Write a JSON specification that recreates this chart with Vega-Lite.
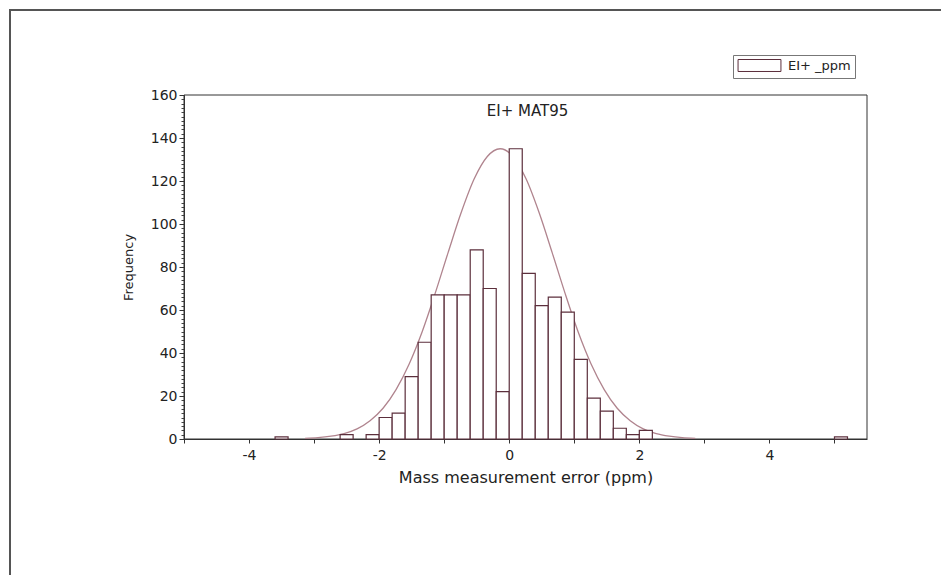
{
  "$schema": "https://vega.github.io/schema/vega-lite/v6.json",
  "usermeta": {"embedOptions": {"actions": false}},
  "autosize": "none",
  "padding": {"left": 10, "top": 10, "right": 0, "bottom": 0},
  "width": 933,
  "height": 567,
  "background": "white",
  "title": {
    "text": "EI+ MAT95",
    "anchor": "middle",
    "frame": "group",
    "offset": 0,
    "dx": 51,
    "dy": 121,
    "baseline": "alphabetic",
    "font": "DejaVu Sans",
    "fontSize": 15,
    "fontWeight": "normal",
    "color": "#222"
  },
  "datasets": {
    "bins": [
      {"b0": -3.6, "b1": -3.4, "count": 1},
      {"b0": -2.6, "b1": -2.4, "count": 2},
      {"b0": -2.2, "b1": -2.0, "count": 2},
      {"b0": -2.0, "b1": -1.8, "count": 10},
      {"b0": -1.8, "b1": -1.6, "count": 12},
      {"b0": -1.6, "b1": -1.4, "count": 29},
      {"b0": -1.4, "b1": -1.2, "count": 45},
      {"b0": -1.2, "b1": -1.0, "count": 67},
      {"b0": -1.0, "b1": -0.8, "count": 67},
      {"b0": -0.8, "b1": -0.6, "count": 67},
      {"b0": -0.6, "b1": -0.4, "count": 88},
      {"b0": -0.4, "b1": -0.2, "count": 70},
      {"b0": -0.2, "b1": 0.0, "count": 22},
      {"b0": 0.0, "b1": 0.2, "count": 135},
      {"b0": 0.2, "b1": 0.4, "count": 77},
      {"b0": 0.4, "b1": 0.6, "count": 62},
      {"b0": 0.6, "b1": 0.8, "count": 66},
      {"b0": 0.8, "b1": 1.0, "count": 59},
      {"b0": 1.0, "b1": 1.2, "count": 37},
      {"b0": 1.2, "b1": 1.4, "count": 19},
      {"b0": 1.4, "b1": 1.6, "count": 13},
      {"b0": 1.6, "b1": 1.8, "count": 5},
      {"b0": 1.8, "b1": 2.0, "count": 2},
      {"b0": 2.0, "b1": 2.2, "count": 4},
      {"b0": 5.0, "b1": 5.2, "count": 1}
    ],
    "curve": [
      {"x": -3.14, "y": 0.27},
      {"x": -2.94, "y": 0.6},
      {"x": -2.74, "y": 1.3},
      {"x": -2.54, "y": 2.5},
      {"x": -2.34, "y": 4.7},
      {"x": -2.14, "y": 8.5},
      {"x": -1.94, "y": 14.3},
      {"x": -1.74, "y": 23.0},
      {"x": -1.54, "y": 34.8},
      {"x": -1.34, "y": 49.8},
      {"x": -1.14, "y": 67.6},
      {"x": -0.94, "y": 86.7},
      {"x": -0.74, "y": 105.2},
      {"x": -0.54, "y": 120.9},
      {"x": -0.34, "y": 131.3},
      {"x": -0.14, "y": 135.0},
      {"x": 0.06, "y": 131.3},
      {"x": 0.26, "y": 120.9},
      {"x": 0.46, "y": 105.2},
      {"x": 0.66, "y": 86.7},
      {"x": 0.86, "y": 67.6},
      {"x": 1.06, "y": 49.8},
      {"x": 1.26, "y": 34.8},
      {"x": 1.46, "y": 23.0},
      {"x": 1.66, "y": 14.3},
      {"x": 1.86, "y": 8.5},
      {"x": 2.06, "y": 4.7},
      {"x": 2.26, "y": 2.5},
      {"x": 2.46, "y": 1.3},
      {"x": 2.66, "y": 0.6},
      {"x": 2.86, "y": 0.27}
    ]
  },
  "layer": [
    {
      "data": {"values": [{}]},
      "mark": {"type": "rect", "filled": false, "color": "#333", "strokeWidth": 1},
      "encoding": {
        "x": {
          "datum": -5, "type": "quantitative",
          "scale": {"domain": [-5, 5.5], "range": [174, 857], "nice": false, "zero": false},
          "axis": null
        },
        "x2": {"datum": 5.5},
        "y": {
          "datum": 0, "type": "quantitative",
          "scale": {"domain": [0, 160], "range": [429, 85], "nice": false, "zero": false},
          "axis": {
            "orient": "left",
            "offset": -174,
            "values": [0,2,4,6,8,10,12,14,16,18,20,22,24,26,28,30,32,34,36,38,40,42,44,46,48,50,52,54,56,58,60,62,64,66,68,70,72,74,76,78,80,82,84,86,88,90,92,94,96,98,100,102,104,106,108,110,112,114,116,118,120,122,124,126,128,130,132,134,136,138,140,142,144,146,148,150,152,154,156,158,160],
            "labels": false,
            "domain": false,
            "ticks": true,
            "tickSize": 3,
            "tickColor": "#444",
            "grid": false,
            "title": null
          }
        },
        "y2": {"datum": 160}
      }
    },
    {
      "data": {"name": "curve"},
      "mark": {"type": "line", "interpolate": "monotone", "color": "#b0848e", "strokeWidth": 1.3},
      "encoding": {
        "x": {
          "field": "x", "type": "quantitative",
          "scale": {"domain": [-5, 5.5], "range": [174, 857], "nice": false, "zero": false},
          "axis": null
        },
        "y": {
          "field": "y", "type": "quantitative",
          "scale": {"domain": [0, 160], "range": [429, 85], "nice": false, "zero": false},
          "axis": null
        }
      }
    },
    {
      "data": {"name": "bins"},
      "mark": {"type": "bar", "stroke": "#5c2f3c", "strokeWidth": 1.2},
      "encoding": {
        "x": {
          "field": "b0", "type": "quantitative",
          "scale": {"domain": [-5, 5.5], "range": [174, 857], "nice": false, "zero": false},
          "axis": {
            "orient": "bottom",
            "offset": -138,
            "values": [-5,-4,-3,-2,-1,0,1,2,3,4,5],
            "labelExpr": "datum.value % 2 == 0 ? '' + datum.value : ''",
            "tickSize": 4,
            "labelPadding": 5,
            "labelFontSize": 14,
            "labelOverlap": false,
            "labelFlush": false,
            "title": "Mass measurement error (ppm)",
            "titleFontSize": 16,
            "titlePadding": 7
          }
        },
        "x2": {"field": "b1"},
        "y": {
          "field": "count", "type": "quantitative",
          "scale": {"domain": [0, 160], "range": [429, 85], "nice": false, "zero": false},
          "axis": {
            "orient": "left",
            "offset": -174,
            "values": [0, 20, 40, 60, 80, 100, 120, 140, 160],
            "tickSize": 5,
            "labelPadding": 2,
            "labelFontSize": 14,
            "title": "Frequency",
            "titleFontSize": 13,
            "titlePadding": 15
          }
        },
        "y2": {"datum": 0},
        "fill": {
          "datum": "EI+ _ppm", "type": "nominal",
          "scale": {"range": ["#ffffff"]},
          "legend": {
            "orient": "none",
            "legendX": 723,
            "legendY": 45,
            "title": null,
            "strokeColor": "#777",
            "padding": 4,
            "symbolType": "M-3.9,-1.09H3.9V1.09H-3.9Z",
            "symbolSize": 121,
            "symbolOffset": 16,
            "symbolStrokeColor": "#5c2f3c",
            "symbolStrokeWidth": 1,
            "symbolFillColor": "#ffffff",
            "labelOffset": 22,
            "labelFont": "DejaVu Sans",
            "labelFontSize": 13,
            "labelColor": "#222"
          }
        }
      }
    }
  ],
  "resolve": {"axis": {"x": "independent", "y": "independent"}},
  "config": {
    "view": {"stroke": "#555", "strokeWidth": 2},
    "font": "DejaVu Sans",
    "axis": {
      "labelFont": "DejaVu Sans",
      "labelFontSize": 13,
      "labelColor": "#222",
      "titleFont": "DejaVu Sans",
      "titleFontWeight": "normal",
      "titleColor": "#222",
      "domainColor": "#333",
      "tickColor": "#333",
      "grid": false
    }
  }
}
